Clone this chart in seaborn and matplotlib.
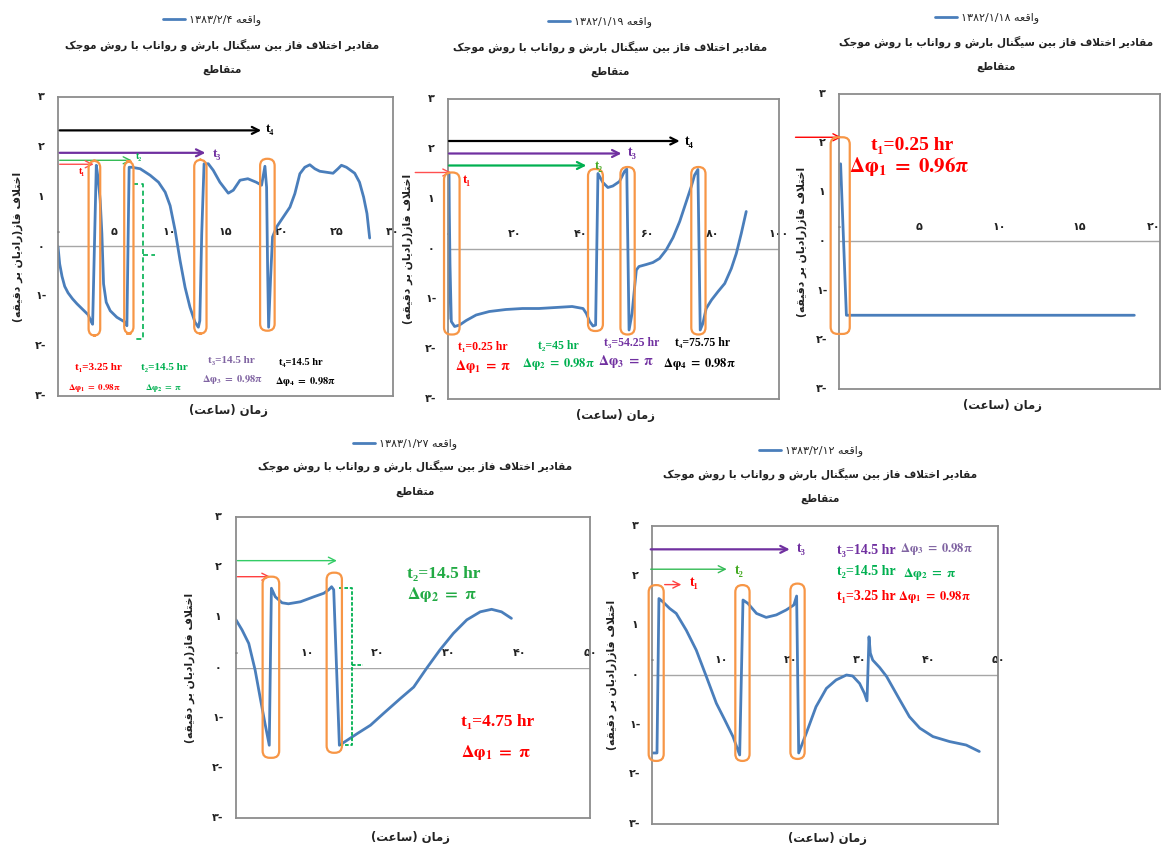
import re
import numpy as np
import pandas as pd
import matplotlib
matplotlib.use("Agg")
import matplotlib.pyplot as plt
import seaborn as sns
from matplotlib.patches import FancyBboxPatch

sns.set_style("white")
plt.rcParams["font.family"] = ["DejaVu Sans"]
plt.rcParams["mathtext.fontset"] = "stix"

# ---------------- data ----------------
# Panel 1 : event 1383/2/4
x1 = [0, 0.15, 0.36, 0.6, 0.9, 1.3, 1.7, 2.2, 2.7, 2.95, 3.1, 3.43, 3.6, 3.78, 3.93, 4.08, 4.32, 4.68,
      5.27, 6.02, 6.17, 6.37, 6.61, 7.36, 8.25, 9.0, 9.6, 10.04, 10.49, 10.93, 11.38, 11.82, 12.27,
      12.57, 12.7, 12.87, 13.08, 13.46, 13.9, 14.5, 15.25, 15.7, 16.3, 17.0, 17.75, 18.23, 18.53,
      18.68, 18.77, 18.86, 19.04, 19.21, 19.57, 20.17, 20.77, 21.21, 21.66, 22.1, 22.55, 23.0, 23.44,
      24.63, 25.07, 25.38, 25.83, 26.57, 27.0, 27.37, 27.67, 27.91]
y1 = [0, -0.35, -0.6, -0.8, -0.93, -1.05, -1.15, -1.26, -1.37, -1.5, -1.56, 1.63, 1.35, 0.92, 0.25, -0.75,
      -1.12, -1.29, -1.42, -1.52, -1.59, 1.59, 1.59, 1.56, 1.43, 1.29, 1.09, 0.82, 0.32, -0.28, -0.82,
      -1.22, -1.52, -1.62, -1.49, 0.25, 1.66, 1.66, 1.53, 1.29, 1.07, 1.13, 1.33, 1.36, 1.29, 1.23,
      1.61, 1.19, -0.42, -1.62, -0.62, 0.19, 0.39, 0.59, 0.79, 1.06, 1.46, 1.59, 1.64, 1.56, 1.51,
      1.47, 1.56, 1.63, 1.59, 1.47, 1.29, 0.99, 0.66, 0.17]

# Panel 2 : event 1382/1/19
x2 = [0, 0.25, 0.6, 1.0, 2.0, 3.5, 5.5, 8.5, 12.5, 17.5, 22.5, 27.5, 32.5, 37.5, 40.8, 41.8, 42.8,
      43.8, 44.6, 45.3, 46.8, 48.3, 49.8, 51.8, 53.3, 54.0, 54.7, 55.6, 56.4, 56.9, 57.7, 59.9, 61.9,
      63.9, 65.9, 68.0, 70.0, 72.0, 73.5, 74.5, 75.5, 76.2, 77.0, 78.0, 79.6, 81.6, 83.6, 85.6, 87.1,
      88.6, 90.1]
y2 = [-1.4, 1.52, -0.3, -1.45, -1.55, -1.52, -1.43, -1.32, -1.25, -1.21, -1.19, -1.19, -1.17, -1.15,
      -1.19, -1.29, -1.45, -1.54, -1.52, 1.51, 1.33, 1.23, 1.26, 1.35, 1.55, 1.6, -1.62, -1.29, -0.75,
      -0.42, -0.35, -0.31, -0.27, -0.19, -0.02, 0.23, 0.55, 0.95, 1.25, 1.48, 1.59, -1.62, -1.49,
      -1.19, -1.02, -0.85, -0.69, -0.39, -0.09, 0.31, 0.75]

# Panel 3 : event 1382/1/18
x3 = [0.1, 0.46, 18.4]
y3 = [1.58, -1.5, -1.5]

# Panel 4 : event 1383/1/27
x4 = [0, 0.85, 1.8, 2.7, 3.4, 4.1, 4.7, 5.0, 5.55, 6.5, 7.4, 9.1, 11.0, 12.4, 13.1, 13.5, 13.8, 14.6,
      15.7, 17.1, 19.0, 20.8, 23.2, 25.1, 26.9, 28.8, 30.7, 32.6, 34.5, 36.1, 37.5, 38.9]
y4 = [0.95, 0.75, 0.48, -0.05, -0.59, -1.12, -1.55, 1.58, 1.41, 1.29, 1.27, 1.31, 1.41, 1.48, 1.55,
      1.61, 1.55, -1.55, -1.45, -1.32, -1.15, -0.92, -0.62, -0.39, -0.02, 0.35, 0.68, 0.95, 1.11, 1.16,
      1.11, 0.98]

# Panel 5 : event 1383/2/12
x5 = [0.15, 0.72, 1.0, 1.6, 2.55, 3.5, 4.96, 6.4, 7.85, 9.3, 10.5, 11.7, 12.67, 13.15, 13.87, 15.1,
      16.5, 17.97, 19.4, 20.5, 20.9, 21.2, 22.3, 23.7, 25.2, 26.6, 28.1, 29.0, 30.0, 30.7, 31.07, 31.36,
      31.55, 31.9, 32.9, 33.9, 35.8, 37.2, 38.7, 40.6, 43.0, 45.4, 47.3]
y5 = [-1.57, -1.57, 1.54, 1.47, 1.34, 1.24, 0.9, 0.5, -0.03, -0.57, -0.9, -1.24, -1.61, 1.51, 1.44,
      1.24, 1.16, 1.21, 1.31, 1.41, 1.59, -1.57, -1.17, -0.64, -0.27, -0.1, 0.0, -0.02, -0.17, -0.37,
      -0.52, 0.77, 0.44, 0.3, 0.15, -0.03, -0.5, -0.84, -1.07, -1.24, -1.34, -1.41, -1.54]

events = ["واقعه ۱۳۸۳/۲/۴", "واقعه ۱۳۸۲/۱/۱۹", "واقعه ۱۳۸۲/۱/۱۸", "واقعه ۱۳۸۳/۱/۲۷", "واقعه ۱۳۸۳/۲/۱۲"]
title_l1 = "مقادیر اختلاف فاز بین سیگنال بارش و رواناب با روش موجک"
title_l2 = "متقاطع"
xlabel = "زمان (ساعت)"
ylabel = "اختلاف فاز(رادیان بر دقیقه)"
ytick_vals = [-3, -2, -1, 0, 1, 2, 3]
ytick_lbls = ["۳-", "۲-", "۱-", "۰", "۱", "۲", "۳"]
xticks_by_panel = [
    ([0, 5, 10, 15, 20, 25, 30], ["۰", "۵", "۱۰", "۱۵", "۲۰", "۲۵", "۳۰"]),
    ([0, 20, 40, 60, 80, 100], ["۰", "۲۰", "۴۰", "۶۰", "۸۰", "۱۰۰"]),
    ([0, 5, 10, 15, 20], ["۰", "۵", "۱۰", "۱۵", "۲۰"]),
    ([0, 10, 20, 30, 40, 50], ["۰", "۱۰", "۲۰", "۳۰", "۴۰", "۵۰"]),
    ([0, 10, 20, 30, 40, 50], ["۰", "۱۰", "۲۰", "۳۰", "۴۰", "۵۰"]),
]

# ---------------- Persian shaping (presentation forms, visual order) ----------------
FORMS = {
    "ا": ("\uFE8D", "\uFE8E", None, None),
    "ب": ("\uFE8F", "\uFE90", "\uFE91", "\uFE92"),
    "ت": ("\uFE95", "\uFE96", "\uFE97", "\uFE98"),
    "ج": ("\uFE9D", "\uFE9E", "\uFE9F", "\uFEA0"),
    "خ": ("\uFEA5", "\uFEA6", "\uFEA7", "\uFEA8"),
    "د": ("\uFEA9", "\uFEAA", None, None),
    "ر": ("\uFEAD", "\uFEAE", None, None),
    "ز": ("\uFEAF", "\uFEB0", None, None),
    "س": ("\uFEB1", "\uFEB2", "\uFEB3", "\uFEB4"),
    "ش": ("\uFEB5", "\uFEB6", "\uFEB7", "\uFEB8"),
    "ط": ("\uFEC1", "\uFEC2", "\uFEC3", "\uFEC4"),
    "ع": ("\uFEC9", "\uFECA", "\uFECB", "\uFECC"),
    "ف": ("\uFED1", "\uFED2", "\uFED3", "\uFED4"),
    "ق": ("\uFED5", "\uFED6", "\uFED7", "\uFED8"),
    "ل": ("\uFEDD", "\uFEDE", "\uFEDF", "\uFEE0"),
    "م": ("\uFEE1", "\uFEE2", "\uFEE3", "\uFEE4"),
    "ن": ("\uFEE5", "\uFEE6", "\uFEE7", "\uFEE8"),
    "ه": ("\uFEE9", "\uFEEA", "\uFEEB", "\uFEEC"),
    "و": ("\uFEED", "\uFEEE", None, None),
    "ک": ("\uFB8E", "\uFB8F", "\uFB90", "\uFB91"),
    "گ": ("\uFB92", "\uFB93", "\uFB94", "\uFB95"),
    "ی": ("\uFBFC", "\uFBFD", "\uFBFE", "\uFBFF"),
}


def _dual(c):
    return c in FORMS and FORMS[c][2] is not None


def shape(text):
    out, i, n = [], 0, len(text)
    while i < n:
        c = text[i]
        if c not in FORMS:
            out.append(c)
            i += 1
            continue
        jp = i > 0 and _dual(text[i - 1])
        if c == "ل" and i + 1 < n and text[i + 1] == "ا":
            out.append("\uFEFC" if jp else "\uFEFB")
            i += 2
            continue
        jn = _dual(c) and i + 1 < n and text[i + 1] in FORMS
        f = FORMS[c]
        out.append(f[3] if (jp and jn) else f[1] if jp else f[2] if jn else f[0])
        i += 1
    return "".join(out)


def rtl(text):
    s = shape(text)[::-1]
    s = "".join({"(": ")", ")": "("}.get(c, c) for c in s)
    return re.sub(r"[0-9\u06F0-\u06F9][0-9\u06F0-\u06F9/.]*", lambda m: m.group(0)[::-1], s)


# ---------------- figure ----------------
W, H = 1161, 847
fig = plt.figure(figsize=(W / 100, H / 100), dpi=100)
BLUE = "#4a7ebb"
ORANGE = "#f79646"
RED = "#ff0000"
GREEN = "#00b050"
PURPLE = "#7030a0"
FRAME = "#8c8c8c"
SERIF = ["Liberation Serif", "DejaVu Serif"]


def fp(x, y):
    return (x / W, 1 - y / H)


panels = [
    dict(box=(58, 393, 97, 396), xmax=30, leg=(212, 20), tx=222, ty=(45, 70), xl=(228, 410), yl=18, ytl=41),
    dict(box=(448, 779, 99, 399), xmax=100, leg=(600, 22), tx=610, ty=(47, 72), xl=(615, 415), yl=408, ytl=431),
    dict(box=(839, 1160, 94, 389), xmax=20, leg=(987, 18), tx=996, ty=(42, 67), xl=(1002, 405), yl=802, ytl=822),
    dict(box=(236, 590, 517, 818), xmax=50, leg=(405, 444), tx=415, ty=(466, 492), xl=(410, 837), yl=190, ytl=218),
    dict(box=(652, 998, 526, 824), xmax=50, leg=(811, 451), tx=820, ty=(474, 499), xl=(827, 838), yl=612, ytl=635),
]
series = [(x1, y1), (x2, y2), (x3, y3), (x4, y4), (x5, y5)]
axes = []

for k, (p, (xs, ys)) in enumerate(zip(panels, series)):
    l, r, t, b = p["box"]
    ax = fig.add_axes([l / W, 1 - b / H, (r - l) / W, (b - t) / H])
    axes.append(ax)
    df = pd.DataFrame({"x": xs, "y": ys})
    sns.lineplot(data=df, x="x", y="y", ax=ax, sort=False, estimator=None, color=BLUE,
                 lw=2.0, label=rtl(events[k]))
    ax.set_xlim(0, p["xmax"])
    ax.set_ylim(-3, 3)
    ax.axhline(0, color="#a6a6a6", lw=1.0, zorder=0)
    for s in ax.spines.values():
        s.set_color(FRAME)
        s.set_linewidth(1.3)
    ax.set_xlabel("")
    ax.set_ylabel("")
    ax.set_xticks([])
    ax.set_yticks(ytick_vals)
    ax.set_yticklabels([])
    ax.tick_params(axis="y", length=0)
    for v, lab in zip(ytick_vals, ytick_lbls):
        ax.text((p["ytl"] - l) / (r - l), (v + 3) / 6, lab, transform=ax.transAxes, ha="center",
                va="center", fontsize=8, fontweight="bold", color="#222222")
    sec = ax.secondary_xaxis(0.5)
    xt, xtl = xticks_by_panel[k]
    sec.set_xticks(xt)
    labs = sec.set_xticklabels(xtl, fontsize=8, fontweight="bold", color="#222222")
    if r >= W - 2:
        labs[-1].set_horizontalalignment("right")
    sec.tick_params(length=0, pad=7)
    for s in sec.spines.values():
        s.set_visible(False)
    ax.legend(loc="center", bbox_to_anchor=fp(*p["leg"]), bbox_transform=fig.transFigure,
              frameon=False, fontsize=8, handlelength=2.0, handletextpad=0.4, borderpad=0)
    fig.text(*fp(p["tx"], p["ty"][0]), rtl(title_l1), ha="center", va="center", fontsize=7.6,
             fontweight="bold", color="#222222")
    fig.text(*fp(p["tx"], p["ty"][1]), rtl(title_l2), ha="center", va="center", fontsize=7.6,
             fontweight="bold", color="#222222")
    fig.text(*fp(*p["xl"]), rtl(xlabel), ha="center", va="center", fontsize=8.4,
             fontweight="bold", color="#222222")
    fig.text(*fp(p["yl"], (t + b) / 2), rtl(ylabel), ha="center", va="center", rotation=90,
             fontsize=7.8, fontweight="bold", color="#222222")


def rbox(ax, x0, x1_, y0, y1_, k):
    l, r, t, b = panels[k]["box"]
    ux = panels[k]["xmax"] / (r - l)
    uy = 6.0 / (b - t)
    patch = FancyBboxPatch((x0, y0), x1_ - x0, y1_ - y0,
                           boxstyle=f"round,pad=0,rounding_size={7 * ux}",
                           mutation_aspect=uy / ux, ec=ORANGE, fc="none", lw=1.6, clip_on=False, zorder=4)
    ax.add_patch(patch)


def arrow(ax, x0, x1_, y, color, lw=1.4):
    ax.annotate("", xy=(x1_, y), xytext=(x0, y),
                arrowprops=dict(arrowstyle="->,head_length=0.5,head_width=0.25", color=color, lw=lw,
                                shrinkA=0, shrinkB=0), annotation_clip=False)


def txt(ax, x, y, s, color, size, serif=True):
    ax.text(x, y, s, color=color, fontsize=size, ha="center", va="center", fontweight="bold",
            family=SERIF if serif else None, clip_on=False, zorder=6)


def dphi(n, val):
    return r"$\mathbf{\Delta\varphi_{%d}\ =\ %s}$" % (n, val)


# ---- panel 1 annotations
ax = axes[0]
for bx in [(2.74, 3.78, -1.79, 1.72), (5.93, 6.76, -1.75, 1.71), (12.2, 13.3, -1.75, 1.74),
           (18.1, 19.4, -1.69, 1.76)]:
    rbox(ax, *bx, 0)
arrow(ax, 0.15, 18.2, 2.33, "black", 1.6)
arrow(ax, 0.15, 13.2, 1.88, PURPLE, 1.6)
arrow(ax, 0.15, 6.6, 1.73, "#33bb55", 1.0)
arrow(ax, 0.15, 3.2, 1.65, "#ff5050", 1.0)
txt(ax, 19.0, 2.36, "t₄", "black", 9.5)
txt(ax, 14.2, 1.85, "t₃", PURPLE, 9.5)
txt(ax, 7.2, 1.81, "t₂", GREEN, 7)
txt(ax, 2.1, 1.5, "t₁", RED, 7)
ax.plot([6.76, 7.65, 7.65, 6.76], [1.26, 1.26, -1.86, -1.86], ls=(0, (3, 2)), color=GREEN, lw=1.2)
ax.plot([7.65, 8.7], [-0.18, -0.18], ls=(0, (3, 2)), color=GREEN, lw=1.2)
txt(ax, 3.6, -2.42, "t₁=3.25 hr", RED, 8)
txt(ax, 3.3, -2.83, dphi(1, r"0.98\pi"), RED, 6.5)
txt(ax, 9.5, -2.42, "t₂=14.5 hr", GREEN, 8)
txt(ax, 9.5, -2.83, dphi(2, r"\pi"), GREEN, 6.5)
txt(ax, 15.55, -2.29, "t₃=14.5 hr", "#8064a2", 8)
txt(ax, 15.6, -2.66, dphi(3, r"0.98\pi"), "#8064a2", 7.5)
txt(ax, 21.7, -2.32, "t₄=14.5 hr", "black", 7.5)
txt(ax, 22.2, -2.70, dphi(4, r"0.98\pi"), "black", 7.5)

# ---- panel 2 annotations
ax = axes[1]
for bx in [(-1.2, 3.5, -1.71, 1.53), (42.3, 46.8, -1.64, 1.6), (52.1, 56.4, -1.71, 1.64),
           (73.5, 77.8, -1.71, 1.64)]:
    rbox(ax, *bx, 1)
arrow(ax, 0.3, 70.0, 2.16, "black", 1.6)
arrow(ax, 0.3, 52.4, 1.91, PURPLE, 1.6)
arrow(ax, 0.3, 41.8, 1.67, GREEN, 1.6)
arrow(ax, -9.9, 1.0, 1.53, "#ff5050", 1.0)
txt(ax, 72.8, 2.16, "t₄", "black", 10)
txt(ax, 55.7, 1.93, "t₃", PURPLE, 10)
txt(ax, 45.6, 1.67, "t₂", "#44aa22", 9)
txt(ax, 5.8, 1.39, "t₁", RED, 9)
txt(ax, 10.6, -1.97, "t₁=0.25 hr", RED, 8.5)
txt(ax, 10.6, -2.35, dphi(1, r"\pi"), RED, 10)
txt(ax, 33.2, -1.94, "t₂=45 hr", GREEN, 8.5)
txt(ax, 33.4, -2.29, dphi(2, r"0.98\pi"), GREEN, 9)
txt(ax, 55.4, -1.89, "t₃=54.25 hr", PURPLE, 8.5)
txt(ax, 53.9, -2.25, dphi(3, r"\pi"), PURPLE, 10)
txt(ax, 76.8, -1.87, "t₄=75.75 hr", "black", 8.5)
txt(ax, 76.0, -2.29, dphi(4, r"0.98\pi"), "black", 9)

# ---- panel 3 annotations
ax = axes[2]
rbox(ax, -0.52, 0.67, -1.88, 2.12, 2)
arrow(ax, -2.71, 0.15, 2.12, RED, 1.0)
txt(ax, 4.57, 1.95, "t₁=0.25 hr", RED, 14)
txt(ax, 4.4, 1.52, dphi(1, r"0.96\pi"), RED, 15)

# ---- panel 4 annotations
ax = axes[3]
rbox(ax, 3.76, 6.1, -1.8, 1.81, 3)
rbox(ax, 12.8, 14.96, -1.7, 1.89, 3)
arrow(ax, 0.2, 14.25, 2.13, "#33cc66", 1.0)
arrow(ax, 0.2, 4.85, 1.81, "#ff4040", 1.0)
ax.plot([14.5, 16.4, 16.4, 14.7], [1.58, 1.58, -1.55, -1.55], ls=(0, (2, 1)), color=GREEN, lw=1.3)
ax.plot([16.4, 18.0], [0.05, 0.05], ls=(0, (2, 1)), color=GREEN, lw=1.3)
txt(ax, 29.3, 1.87, "t₂=14.5 hr", "#22aa44", 12.5)
txt(ax, 29.1, 1.45, dphi(2, r"\pi"), "#22aa44", 12.5)
txt(ax, 37.0, -1.09, "t₁=4.75 hr", RED, 12.5)
txt(ax, 36.8, -1.69, dphi(1, r"\pi"), RED, 12.5)

# ---- panel 5 annotations
ax = axes[4]
for bx in [(-0.48, 1.69, -1.73, 1.81), (12.04, 14.1, -1.73, 1.81), (20.0, 22.06, -1.69, 1.84)]:
    rbox(ax, *bx, 4)
arrow(ax, -0.19, 19.9, 2.53, PURPLE, 1.6)
arrow(ax, -0.19, 10.8, 2.13, "#33bb55", 1.0)
arrow(ax, 1.83, 4.24, 1.82, "#ff4040", 1.0)
txt(ax, 21.6, 2.54, "t₃", PURPLE, 10)
txt(ax, 12.6, 2.11, "t₂", "#44aa22", 10)
txt(ax, 6.07, 1.86, "t₁", RED, 10)
txt(ax, 31.0, 2.5, "t₃=14.5 hr", PURPLE, 10)
txt(ax, 41.1, 2.53, dphi(3, r"0.98\pi"), "#8064a2", 9)
txt(ax, 31.0, 2.08, "t₂=14.5 hr", GREEN, 10)
txt(ax, 40.1, 2.03, dphi(2, r"\pi"), GREEN, 9.5)
txt(ax, 31.0, 1.59, "t₁=3.25 hr", RED, 10)
txt(ax, 40.8, 1.57, dphi(1, r"0.98\pi"), RED, 9)

fig.savefig("out.png", dpi=100, facecolor="white")
